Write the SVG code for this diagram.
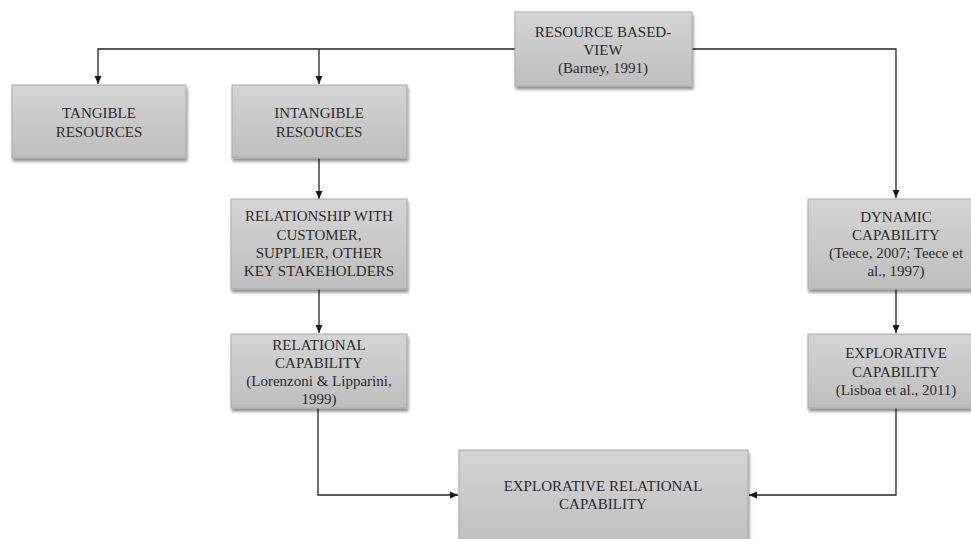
<svg xmlns="http://www.w3.org/2000/svg" width="971" height="539" viewBox="0 0 971 539">
<defs>
<linearGradient id="g" x1="0" y1="0" x2="0" y2="1">
<stop offset="0" stop-color="#d5d5d5"/>
<stop offset="1" stop-color="#bebebe"/>
</linearGradient>
<filter id="sh" x="-10%" y="-10%" width="125%" height="135%">
<feGaussianBlur in="SourceAlpha" stdDeviation="1.6"/>
<feOffset dx="1" dy="3" result="b"/>
<feComponentTransfer><feFuncA type="linear" slope="0.45"/></feComponentTransfer>
<feMerge><feMergeNode/><feMergeNode in="SourceGraphic"/></feMerge>
</filter>
<marker id="ah" viewBox="0 0 8 8" refX="8" refY="4" markerWidth="8" markerHeight="8" markerUnits="userSpaceOnUse" orient="auto">
<path d="M0,0.5 L8,4 L0,7.5 Z" fill="#1a1a1a"/>
</marker>
</defs>
<style>
.box{fill:url(#g);stroke:#a9a9a9;stroke-width:1;filter:url(#sh)}
.t{font-family:"Liberation Serif","Times New Roman",serif;font-size:15px;fill:#2b2b2b;text-anchor:middle}
.c{fill:none;stroke:#222;stroke-width:1.3}
</style>
<rect width="971" height="539" fill="#ffffff"/>
<g id="connectors">
<path class="c" d="M515,49 H98 V84" marker-end="url(#ah)"/>
<path class="c" d="M319,49 V84" marker-end="url(#ah)"/>
<path class="c" d="M692,49 H896 V198" marker-end="url(#ah)"/>
<path class="c" d="M319,158 V199" marker-end="url(#ah)"/>
<path class="c" d="M319,289 V333" marker-end="url(#ah)"/>
<path class="c" d="M896,289 V333" marker-end="url(#ah)"/>
<path class="c" d="M318,408 V495 H458" marker-end="url(#ah)"/>
<path class="c" d="M896,408 V495 H749" marker-end="url(#ah)"/>
</g>
<g id="rbv">
<rect class="box" x="515" y="12" width="177" height="74"/>
<text class="t" x="603" y="37">RESOURCE BASED-</text>
<text class="t" x="603" y="55">VIEW</text>
<text class="t" x="603" y="73">(Barney, 1991)</text>
</g>
<g id="tangible">
<rect class="box" x="12" y="85" width="174" height="73"/>
<text class="t" x="99" y="118">TANGIBLE</text>
<text class="t" x="99" y="137">RESOURCES</text>
</g>
<g id="intangible">
<rect class="box" x="232" y="85" width="175" height="73"/>
<text class="t" x="319" y="118">INTANGIBLE</text>
<text class="t" x="319" y="137">RESOURCES</text>
</g>
<g id="relationship">
<rect class="box" x="231" y="199" width="176" height="90"/>
<text class="t" x="319" y="221">RELATIONSHIP WITH</text>
<text class="t" x="319" y="240">CUSTOMER,</text>
<text class="t" x="319" y="258">SUPPLIER, OTHER</text>
<text class="t" x="319" y="276">KEY STAKEHOLDERS</text>
</g>
<g id="relational">
<rect class="box" x="231" y="334" width="176" height="74"/>
<text class="t" x="319" y="350">RELATIONAL</text>
<text class="t" x="319" y="368">CAPABILITY</text>
<text class="t" x="319" y="386">(Lorenzoni &amp; Lipparini,</text>
<text class="t" x="319" y="404">1999)</text>
</g>
<g id="dynamic">
<rect class="box" x="808" y="199" width="176" height="90"/>
<text class="t" x="896" y="222">DYNAMIC</text>
<text class="t" x="896" y="240">CAPABILITY</text>
<text class="t" x="896" y="258">(Teece, 2007; Teece et</text>
<text class="t" x="896" y="276">al., 1997)</text>
</g>
<g id="explorative">
<rect class="box" x="808" y="334" width="176" height="74"/>
<text class="t" x="896" y="358">EXPLORATIVE</text>
<text class="t" x="896" y="377">CAPABILITY</text>
<text class="t" x="896" y="395">(Lisboa et al., 2011)</text>
</g>
<g id="explorative-relational">
<rect class="box" x="459" y="450" width="289" height="100"/>
<text class="t" x="603" y="491">EXPLORATIVE RELATIONAL</text>
<text class="t" x="603" y="509">CAPABILITY</text>
</g>
</svg>
